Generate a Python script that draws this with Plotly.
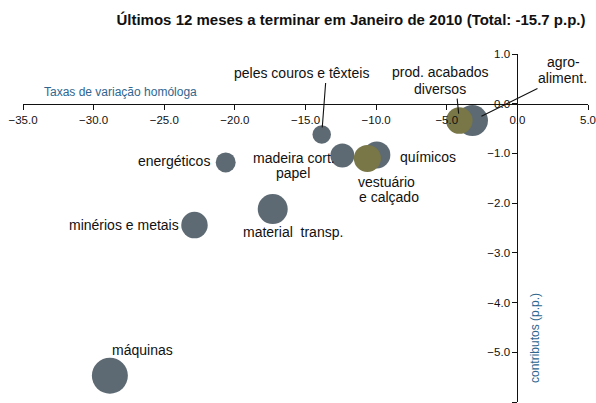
import plotly.graph_objects as go

# Sectores: taxa de variação homóloga (%), contributo (p.p.), peso (diâmetro da bolha)
setores = ["peles couros e têxteis", "energéticos", "madeira cort. papel", "químicos",
           "material  transp.", "minérios e metais", "máquinas", "agro-aliment.",
           "vestuário e calçado", "prod. acabados diversos"]
taxas = [-13.85, -20.65, -12.39, -9.95, -17.32, -22.86, -28.85, -3.18, -10.62, -4.11]
contributos = [-0.62, -1.18, -1.04, -1.03, -2.12, -2.44, -5.47, -0.34, -1.10, -0.34]
pesos = [18.5, 20, 24, 27, 30, 26.5, 36, 31, 27, 26.5]
grupo = ["g", "g", "g", "g", "g", "g", "g", "g", "o", "o"]

x_ticks = [-35, -30, -25, -20, -15, -10, -5, 0, 5]
y_ticks = [1, 0, -1, -2, -3, -4, -5, -6]

CINZA = "#5E6A73"
OLIVA = "#797747"
AZUL = "#2F6690"
TEXTO = "#111111"
FONT = "Liberation Sans, Arial, sans-serif"

X_RANGE = [-35, 5]
Y_RANGE = [-6, 1]

fig = go.Figure()
for g, cor in (("g", CINZA), ("o", OLIVA)):
    idx = [i for i, v in enumerate(grupo) if v == g]
    fig.add_trace(go.Scatter(
        x=[taxas[i] for i in idx], y=[contributos[i] for i in idx],
        mode="markers", hoverinfo="text", text=[setores[i] for i in idx],
        marker=dict(size=[pesos[i] for i in idx], sizemode="diameter",
                    color=cor, opacity=1, line=dict(width=0)),
        showlegend=False, cliponaxis=False))

# Rótulos dos sectores: uma linha de texto por entrada, deslocada (px) da bolha
rotulos = [
    ("energéticos", "energéticos", -51.7, 1.7),
    ("madeira cort. papel", "madeira cort.", -48.8, -2.3),
    ("madeira cort. papel", "papel", -49.6, -17.3),
    ("químicos", "químicos", 51.3, -2),
    ("vestuário e calçado", "vestuário", 18.7, -23.5),
    ("vestuário e calçado", "e calçado", 21.2, -38.8),
    ("material  transp.", "material  transp.", 20.3, -22.7),
    ("minérios e metais", "minérios e metais", -70.7, 0),
    ("máquinas", "máquinas", 33, 25.7),
    ("peles couros e têxteis", "peles couros e têxteis", -20, 61.8),
    ("prod. acabados diversos", "prod. acabados", -19.3, 48.8),
    ("prod. acabados diversos", "diversos", -19.5, 31.2),
    ("agro-aliment.", "agro-", 90.8, 58.8),
    ("agro-aliment.", "aliment.", 90.3, 42.8),
]
annotations = []
for nome, txt, dx, dy in rotulos:
    i = setores.index(nome)
    annotations.append(dict(x=taxas[i], y=contributos[i], text=txt, showarrow=False,
                            xshift=dx, yshift=dy, xanchor="center", yanchor="middle",
                            borderpad=0,
                            font=dict(family=FONT, size=14, color=TEXTO)))

# Linhas de chamada (início relativo à bolha em px, afastamento do centro)
chamadas = {
    "peles couros e têxteis": (4, -53, 7),
    "prod. acabados diversos": (-2.3, -23.5, 7),
    "agro-aliment.": (66.5, -32.8, 10),
}
for nome, (ax, ay, so) in chamadas.items():
    i = setores.index(nome)
    annotations.append(dict(x=taxas[i], y=contributos[i], ax=ax, ay=ay, text="",
                            showarrow=True, arrowhead=0, arrowwidth=1.1,
                            arrowcolor=TEXTO, standoff=so))

# Títulos dos eixos
annotations.append(dict(xref="paper", yref="paper", x=(120.5 - 23) / 565, y=1 - (92 - 54) / 348,
                        text="Taxas de variação homóloga", showarrow=False,
                        xanchor="center", yanchor="middle",
                        font=dict(family=FONT, size=12, color=AZUL)))
annotations.append(dict(xref="paper", yref="paper", x=(535 - 23) / 565, y=1 - (338 - 54) / 348,
                        text="contributos (p.p.)", showarrow=False, textangle=-90,
                        xanchor="center", yanchor="middle",
                        font=dict(family=FONT, size=12, color=AZUL)))

x_pos = (0 - Y_RANGE[0]) / (Y_RANGE[1] - Y_RANGE[0])
y_pos = (0 - X_RANGE[0]) / (X_RANGE[1] - X_RANGE[0])

fig.update_layout(
    width=596, height=403,
    margin=dict(l=23, r=8, t=54, b=1),
    paper_bgcolor="white", plot_bgcolor="white",
    title=dict(text="<b>Últimos 12 meses a terminar em Janeiro de 2010 (Total: -15.7 p.p.)</b>",
               x=351 / 596, xref="container", xanchor="center",
               y=1 - 20 / 403, yref="container", yanchor="middle",
               font=dict(family=FONT, size=15, color=TEXTO)),
    xaxis=dict(range=X_RANGE, anchor="free", position=x_pos, side="bottom",
               showline=True, linecolor=TEXTO, linewidth=1,
               ticks="outside", ticklen=5, tickcolor=TEXTO,
               tickvals=x_ticks, tickformat=".1f", showgrid=False, zeroline=False,
               tickfont=dict(family=FONT, size=11.5, color=TEXTO)),
    yaxis=dict(range=Y_RANGE, anchor="free", position=y_pos, side="left",
               showline=True, linecolor=TEXTO, linewidth=1,
               ticks="outside", ticklen=5, tickcolor=TEXTO,
               tickvals=y_ticks, tickformat=".1f", showgrid=False, zeroline=False,
               tickfont=dict(family=FONT, size=11.5, color=TEXTO)),
    annotations=annotations,
)

fig.write_html("out.html")
